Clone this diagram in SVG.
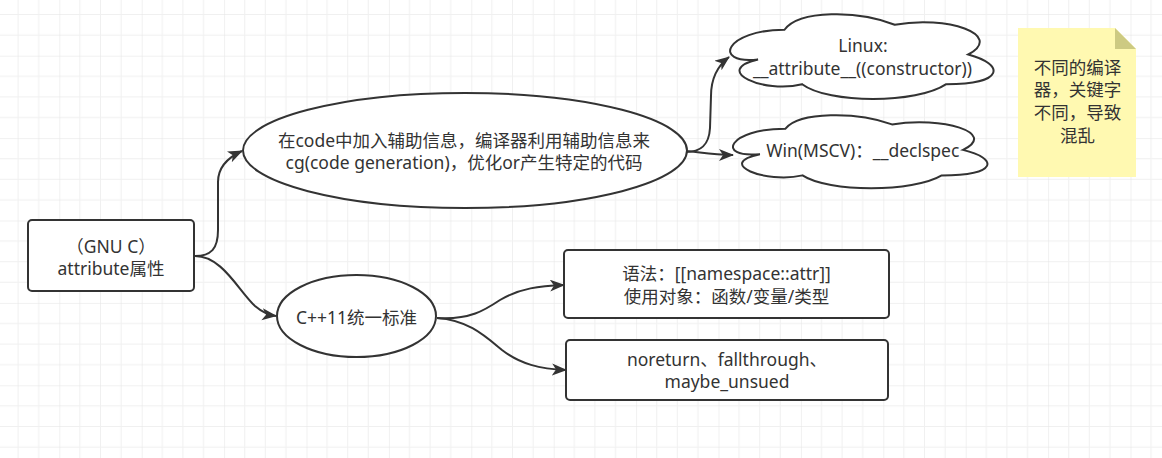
<svg xmlns="http://www.w3.org/2000/svg" width="1162" height="458" viewBox="0 0 1162 458">
<defs>
<style>
.shape{fill:#ffffff;stroke:#333333;stroke-width:2}
.t{font-family:"Noto Sans","Noto Sans CJK SC",sans-serif;font-size:17.5px;fill:#333333;text-anchor:middle}
.edge{fill:none;stroke:#333333;stroke-width:2}
</style>
<pattern id="grid" x="59.3" y="55.7" width="82.4" height="82.4" patternUnits="userSpaceOnUse">
<rect x="20.1" y="0" width="1" height="82.4" fill="#f0f0f0"/>
<rect x="40.7" y="0" width="1" height="82.4" fill="#f0f0f0"/>
<rect x="61.3" y="0" width="1" height="82.4" fill="#f0f0f0"/>
<rect x="0" y="20.1" width="82.4" height="1" fill="#f0f0f0"/>
<rect x="0" y="40.7" width="82.4" height="1" fill="#f0f0f0"/>
<rect x="0" y="61.3" width="82.4" height="1" fill="#f0f0f0"/>
<rect x="-0.5" y="0" width="1" height="82.4" fill="#e4e4e4"/>
<rect x="0" y="-0.5" width="82.4" height="1" fill="#e4e4e4"/>
</pattern>
<marker id="arrow" markerUnits="userSpaceOnUse" markerWidth="17" markerHeight="13" refX="14" refY="6" orient="auto" viewBox="0 0 17 13">
<path d="M0,0 L15,6 L0,12 L4,6 Z" fill="#333333"/>
</marker>
</defs>
<rect x="0" y="0" width="1162" height="458" fill="#ffffff"/>
<rect x="0" y="0" width="1162" height="458" fill="url(#grid)"/>

<g id="connectors">
<path class="edge" marker-end="url(#arrow)" d="M195,256 C211,256 218,249 218,230 L218,182 C218,167 229,157 242,151"/>
<path class="edge" marker-end="url(#arrow)" d="M195,256 C222,256 238,290 255,306 C262,312 268,315 276,316"/>
<path class="edge" marker-end="url(#arrow)" d="M686,152 C700,152 709,146 710,128 L711,96 C711,80 716,67 729,57"/>
<path class="edge" marker-end="url(#arrow)" d="M686,151 C700,152 710,155 733,155"/>
<path class="edge" marker-end="url(#arrow)" d="M437,318 C470,320 485,310 500,300 C520,288 540,286 564,285"/>
<path class="edge" marker-end="url(#arrow)" d="M437,318 C468,320 485,336 502,350 C520,364 540,369 566,370"/>
</g>

<g id="node-gnu">
<rect class="shape" x="28" y="220" width="166" height="71" rx="4" ry="4"/>
<text class="t" x="111" y="252.5">（GNU C）</text>
<text class="t" x="111" y="275">attribute属性</text>
</g>

<g id="node-info">
<ellipse class="shape" cx="465" cy="150.5" rx="222" ry="57.5"/>
<text class="t" x="464" y="146.6">在code中加入辅助信息，编译器利用辅助信息来</text>
<text class="t" x="464" y="169">cg(code generation)，优化or产生特定的代码</text>
</g>

<g id="node-cpp11">
<ellipse class="shape" cx="356.5" cy="316" rx="79.5" ry="41"/>
<text class="t" x="356.5" y="324">C++11统一标准</text>
</g>

<g id="node-linux">
<path class="shape" d="M784.5,29.75 C725.7,29.75 711,64.4 758.04,59.45 C711,70.34 763.92,94.1 802.14,84.2 C828.6,104 916.8,104 946.2,84.2 C1005,84.2 1005,64.4 968.25,54.5 C1005,34.7 946.2,14.9 894.75,24.8 C858,9.95 799.2,9.95 784.5,29.75 Z"/>
<text class="t" x="863" y="51.7">Linux:</text>
<text class="t" x="862.5" y="74.5">__attribute__((constructor))</text>
</g>

<g id="node-win">
<path class="shape" d="M785.5,128.65 C728.7,128.65 714.5,158.4 759.94,154.15 C714.5,163.5 765.62,183.9 802.54,175.4 C828.1,192.4 913.3,192.4 941.7,175.4 C998.5,175.4 998.5,158.4 963,149.9 C998.5,132.9 941.7,115.9 892,124.4 C856.5,111.65 799.7,111.65 785.5,128.65 Z"/>
<text class="t" x="862.8" y="157">Win(MSCV)：__declspec</text>
</g>

<g id="node-syntax">
<rect class="shape" x="564" y="250" width="325" height="68" rx="4" ry="4"/>
<text class="t" x="726.5" y="280">语法：[[namespace::attr]]</text>
<text class="t" x="726.5" y="303.3">使用对象：函数/变量/类型</text>
</g>

<g id="node-std">
<rect class="shape" x="566" y="340" width="322" height="60" rx="4" ry="4"/>
<text class="t" x="727" y="366">noreturn、fallthrough、</text>
<text class="t" x="727" y="388">maybe_unsued</text>
</g>

<g id="note">
<path d="M1018,28 L1115,28 L1136,49 L1136,177 L1018,177 Z" fill="#fff9b1"/>
<path d="M1115,28 L1115,49 L1136,49 Z" fill="#cdca82"/>
<text class="t" x="1077.5" y="73.5">不同的编译</text>
<text class="t" x="1077.5" y="96.3">器，关键字</text>
<text class="t" x="1077.5" y="119">不同，导致</text>
<text class="t" x="1077.5" y="141.7">混乱</text>
</g>
</svg>
